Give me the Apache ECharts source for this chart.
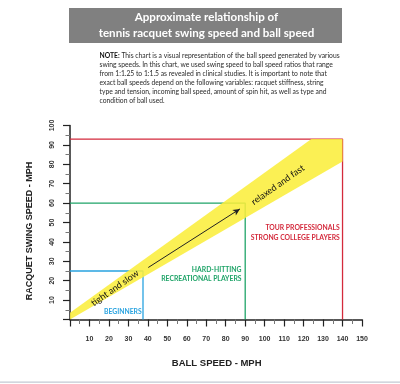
<!DOCTYPE html>
<html><head><meta charset="utf-8">
<script src="https://cdn.jsdelivr.net/npm/echarts@6/dist/echarts.min.js"></script>
<style>html,body{margin:0;padding:0;background:#fff}#c{width:400px;height:384px}</style>
</head><body><div id="c"></div>
<script>
// ---- data ----
const titleLines = ['Approximate relationship of', 'tennis racquet swing speed and ball speed'];
const noteLines = [
  'This chart is a visual representation of the ball speed generated by various',
  'swing speeds. In this chart, we used swing speed to ball speed ratios that range',
  'from 1:1.25 to 1:1.5 as revealed in clinical studies. It is important to note that',
  'exact ball speeds depend on the following variables: racquet stiffness, string',
  'type and tension, incoming ball speed, amount of spin hit, as well as type and',
  'condition of ball used.'
];
const xName = 'BALL SPEED - MPH';
const yName = 'RACQUET SWING SPEED - MPH';
const blueBox  = [[0, 25], [37.5, 25], [37.5, 0]];
const greenBox = [[0, 60], [90, 60], [90, 0]];
const redBox   = [[0, 93], [140, 93], [140, 0]];
const band     = [[0, 0], [0, 3.5], [124, 93], [140, 93], [140, 81.5]];
const arrow    = [[40.2, 26.8], [87.3, 57]];
const bandLabels = [
  ['tight and slow', 23.1, 16.2],
  ['relaxed and fast', 106.8, 69.4]
];
const groupLabels = [
  ['BEGINNERS', 36.8, 4.0, '#29a3e0'],
  ['HARD-HITTING', 88.1, 25.5, '#1fa468'],
  ['RECREATIONAL PLAYERS', 88.1, 20.8, '#1fa468'],
  ['TOUR PROFESSIONALS', 138.6, 47.3, '#d42a3c'],
  ['STRONG COLLEGE PLAYERS', 138.6, 42.2, '#d42a3c']
];

const chart = echarts.init(document.getElementById('c'), null, {renderer: 'canvas'});
const sans = 'Liberation Sans, Arial, sans-serif';
const cal = 'Lato, Open Sans, sans-serif';

// fit font size so text width matches a target width
const mctx = document.createElement('canvas').getContext('2d');
function fitSize(text, weight, family, target) {
  mctx.font = weight + ' 20px ' + family;
  return 20 * target / mctx.measureText(text).width;
}
const titleSize = (fitSize(titleLines[0], 'bold', cal, 145) + fitSize(titleLines[1], 'bold', cal, 214)) / 2;
const noteSize = fitSize('NOTE: ' + noteLines[0], 'normal', cal, 240);

function boxSeries(data, color) {
  return {type: 'line', data: data, symbol: 'none', silent: true, z: 2,
    lineStyle: {color: color, width: 1.3}, animation: false};
}

const graphics = [
  {type: 'rect', shape: {x: 69, y: 8, width: 273, height: 35}, style: {fill: '#808080'}},
  {type: 'text', x: 206.5, y: 17.5, style: {text: titleLines[0], fill: '#fff', font: 'bold ' + titleSize + 'px ' + cal, align: 'center', verticalAlign: 'middle'}},
  {type: 'text', x: 206.5, y: 33, style: {text: titleLines[1], fill: '#fff', font: 'bold ' + titleSize + 'px ' + cal, align: 'center', verticalAlign: 'middle'}},
  {type: 'text', x: 30, y: 231, rotation: Math.PI / 2, style: {text: yName, fill: '#222', font: 'bold 9px ' + sans, align: 'center', verticalAlign: 'middle'}},
  {type: 'text', x: 216.7, y: 363.5, style: {text: xName, fill: '#222', font: 'bold 9.5px ' + sans, align: 'center', verticalAlign: 'middle'}},
  {type: 'rect', shape: {x: 0, y: 381.5, width: 400, height: 1.2}, style: {fill: '#c3c9d3'}}
];
noteLines.forEach(function (t, i) {
  graphics.push({type: 'text', x: 99.5, y: 56 + i * 8.95, style: {
    text: i === 0 ? '{b|NOTE:} ' + t : t, fill: '#2a2a2a', font: noteSize + 'px ' + cal, verticalAlign: 'middle',
    rich: {b: {fontWeight: 'bold', fontSize: noteSize, fontFamily: cal, fill: '#111'}}
  }});
});

const axisCommon = {
  type: 'value', interval: 10, splitLine: {show: false},
  axisLine: {show: true, onZero: false, lineStyle: {color: '#222', width: 1.5}},
  axisTick: {show: true, inside: false, length: 7, lineStyle: {color: '#222', width: 1.2}},
  minorTick: {show: true, splitNumber: 2, length: 4.5, lineStyle: {color: '#777', width: 1}},
  minorSplitLine: {show: false}
};

chart.setOption({
  animation: false,
  grid: {left: 70, top: 125.5, width: 292, height: 194, containLabel: false},
  xAxis: Object.assign({}, axisCommon, {min: 0, max: 150,
    axisLabel: {formatter: v => v === 0 ? '' : String(v), fontSize: 7, fontWeight: 'bold', color: '#333', fontFamily: sans, margin: 16}}),
  yAxis: Object.assign({}, axisCommon, {min: 0, max: 100,
    axisLabel: {formatter: v => v === 0 ? '' : String(v), fontSize: 7, fontWeight: 'bold', color: '#333', fontFamily: sans, margin: 14, rotate: 90}}),
  graphic: graphics,
  series: [
    boxSeries(redBox, '#d42a3c'),
    boxSeries(greenBox, '#1fa468'),
    boxSeries(blueBox, '#29a3e0'),
    {
      type: 'custom', z: 3, silent: true, data: [0],
      renderItem: function (params, api) {
        return {type: 'polygon', shape: {points: band.map(p => api.coord(p))},
          style: {fill: '#fbee3c', opacity: 0.88}};
      }
    },
    {
      type: 'line', data: [], z: 4, silent: true,
      markLine: {silent: true, symbol: ['none', 'arrow'], symbolSize: [5, 7], animation: false,
        label: {show: false}, lineStyle: {color: '#222', width: 1, type: 'solid'},
        data: [[{coord: arrow[0]}, {coord: arrow[1]}]]}
    },
    {
      type: 'custom', z: 5, silent: true, data: bandLabels,
      renderItem: function (params, api) {
        const d = bandLabels[params.dataIndex];
        const p = api.coord([d[1], d[2]]);
        return {type: 'text', x: p[0], y: p[1], rotation: 35 * Math.PI / 180,
          style: {text: d[0], fill: '#111', font: '9px ' + cal, align: 'center', verticalAlign: 'middle'}};
      }
    },
    {
      type: 'custom', z: 5, silent: true, data: groupLabels,
      renderItem: function (params, api) {
        const d = groupLabels[params.dataIndex];
        const p = api.coord([d[1], d[2]]);
        return {type: 'text', x: p[0], y: p[1],
          style: {text: d[0], fill: d[3], font: 'bold 6.8px ' + cal, align: 'right', verticalAlign: 'middle'}};
      }
    }
  ]
});
</script></body></html>
